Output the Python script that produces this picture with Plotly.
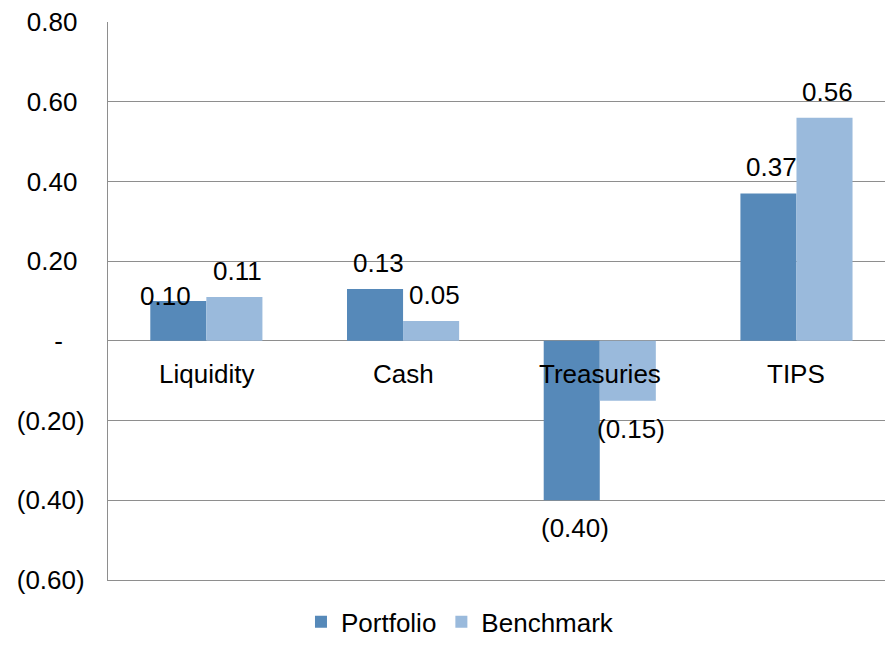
import plotly.graph_objects as go

# Attribution by sector
categories = ["Liquidity", "Cash", "Treasuries", "TIPS"]
portfolio = [0.10, 0.13, -0.40, 0.37]
benchmark = [0.11, 0.05, -0.15, 0.56]

tick_values = [-0.6, -0.4, -0.2, 0.0, 0.2, 0.4, 0.6, 0.8]
tick_labels = ["(0.60)", "(0.40)", "(0.20)", "-\u00a0\u00a0\u00a0",
               "0.20\u00a0", "0.40\u00a0", "0.60\u00a0", "0.80\u00a0"]

DARK = "#5689B9"
LIGHT = "#9ABADC"
GRID = "#8E8E8E"
FONT = "Liberation Sans, Arial, sans-serif"
FS = 26


def fmt(v):
    return f"({abs(v):.2f})" if v < 0 else f"{v:.2f}"


fig = go.Figure()
fig.add_trace(go.Bar(x=categories, y=portfolio, name="Portfolio",
                     marker=dict(color=DARK, line=dict(width=0))))
fig.add_trace(go.Bar(x=categories, y=benchmark, name="Benchmark",
                     marker=dict(color=LIGHT, line=dict(width=0))))

bargap = 0.43
half = (1 - bargap) / 4  # centre offset of each bar within its group

annotations = []
for series, sign in ((portfolio, -1), (benchmark, 1)):
    for i, v in enumerate(series):
        xs, ys = 3, (26 if v >= 0 else -28)
        if series is portfolio and i == 0:
            # label pushed aside by its neighbour
            xs, ys = -13, 5
        annotations.append(dict(
            x=i + sign * half, y=v, xref="x", yref="y",
            text=fmt(v), showarrow=False, xshift=xs, yshift=ys,
            xanchor="center", yanchor="middle",
            font=dict(family=FONT, size=FS, color="#000000")))

# category names sit just under the zero line
for i, c in enumerate(categories):
    annotations.append(dict(
        x=i, y=0, xref="x", yref="y", text=c, showarrow=False,
        yshift=-33, xanchor="center", yanchor="middle",
        font=dict(family=FONT, size=FS, color="#000000")))

fig.update_layout(
    width=885, height=646,
    margin=dict(l=108, r=0, t=22, b=66, autoexpand=False),
    paper_bgcolor="white", plot_bgcolor="white",
    barmode="group", bargap=bargap, bargroupgap=0,
    font=dict(family=FONT, size=FS, color="#000000"),
    showlegend=True,
    legend=dict(orientation="h", x=0.453, y=-0.117,
                xanchor="center", yanchor="bottom",
                font=dict(family=FONT, size=FS, color="#000000"),
                itemwidth=30, tracegroupgap=0),
    annotations=annotations,
)
fig.update_xaxes(type="category", range=[-0.5, 3.45], showticklabels=False,
                 showgrid=False, showline=True, linecolor=GRID, linewidth=1.3,
                 zeroline=False, ticks="")
fig.update_yaxes(range=[-0.6, 0.8], tickvals=tick_values, ticktext=tick_labels,
                 showgrid=True, gridcolor=GRID, gridwidth=1.3,
                 zeroline=True, zerolinecolor=GRID, zerolinewidth=1.3,
                 showline=True, linecolor=GRID, linewidth=1.3,
                 ticks="", ticklabelstandoff=17,
                 tickfont=dict(family=FONT, size=FS, color="#000000"))

fig.write_html("out.html")
